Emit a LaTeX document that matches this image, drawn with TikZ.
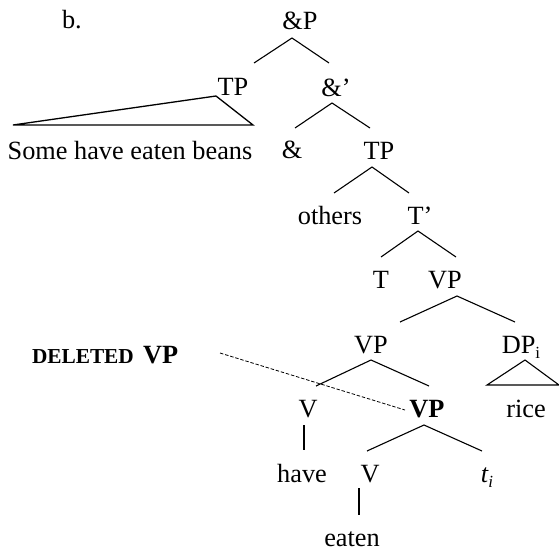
\documentclass[tikz,border=0pt]{standalone}
\usepackage{fontspec}
\setmainfont{Liberation Serif}
\usetikzlibrary{calc}
\newcommand{\lbl}{\fontsize{26.3}{30}\selectfont}
\newcommand{\subtxt}[1]{\raisebox{-5pt}{\fontsize{17}{17}\selectfont #1}}
\begin{document}
\begin{tikzpicture}[x=1pt,y=1pt,
  cat/.style={inner sep=0pt,outer sep=0pt,anchor=base,font=\lbl},
  branch/.style={line width=1.1pt},
  tri/.style={line width=1.3pt,line join=miter},
  elided/.style={line width=0.8pt,dash pattern=on 3.5pt off 1.8pt}]
\useasboundingbox (0,0) rectangle (559,-552);

% labels
\node[cat,anchor=base west] (lab) at (62,-28) {b.};
\node[cat] (ampP) at (300,-29) {\&P};
\node[cat] (tpL) at (233,-95) {TP};
\node[cat] (sent) at (130,-159) {Some have eaten beans};
\node[cat] (ampbar) at (336,-96) {\&’};
\node[cat] (amp) at (292,-158) {\&};
\node[cat] (tpR) at (379,-159) {TP};
\node[cat] (others) at (330,-224) {others};
\node[cat] (tbar) at (420,-224) {T’};
\node[cat] (t) at (381,-288) {T};
\node[cat] (vpA) at (445,-288) {VP};
\node[cat] (vpB) at (371,-353) {VP};
\node[cat] (dp) at (521,-353) {DP\subtxt{i}};
\node[cat] (vA) at (308,-417) {V};
\node[cat] (vpC) at (427,-417) {\bfseries VP};
\node[cat] (rice) at (526,-417) {rice};
\node[cat] (have) at (302,-482) {have};
\node[cat] (vB) at (370,-482) {V};
\node[cat] (trace) at (487,-482) {\itshape t\subtxt{i}};
\node[cat] (eaten) at (352,-546) {eaten};
\node[inner sep=0pt,outer sep=0pt,anchor=base west] (del) at (32,-363)
  {\fontsize{21.3}{24}\selectfont\bfseries DELETED\hspace{4pt} \fontsize{26.3}{30}\selectfont VP};

% branches
\draw[branch] ([shift={(21,32)}]tpL.base) -- ([shift={(-8,-9)}]ampP.base) -- ([shift={(-7,33)}]ampbar.base);
\draw[branch] ([shift={(3,30)}]amp.base) -- ([shift={(-4,-7)}]ampbar.base) -- ([shift={(-9,31)}]tpR.base);
\draw[branch] ([shift={(4,31)}]others.base) -- ([shift={(-7,-8)}]tpR.base) -- ([shift={(-11,31)}]tbar.base);
\draw[branch] ([shift={(0,31)}]t.base) -- ([shift={(-2,-7)}]tbar.base) -- ([shift={(11,31)}]vpA.base);
\draw[branch] ([shift={(29,31)}]vpB.base) -- ([shift={(12,-8)}]vpA.base) -- ([shift={(-6,31)}]dp.base);
\draw[branch] ([shift={(8,31)}]vA.base) -- ([shift={(0,-7)}]vpB.base) -- ([shift={(2,31)}]vpC.base);
\draw[branch] ([shift={(-4,-8)}]vA.base) -- ([shift={(2,32)}]have.base);
\draw[branch] ([shift={(-3,31)}]vB.base) -- ([shift={(-3,-8)}]vpC.base) -- ([shift={(-5,31)}]trace.base);
\draw[branch] ([shift={(-11,-6)}]vB.base) -- ([shift={(7,31)}]eaten.base);

% collapsed constituents
\draw[tri] ([shift={(-17,-1)}]tpL.base) -- ([shift={(-220,-30)}]tpL.base) -- ([shift={(20,-30)}]tpL.base) -- cycle;
\draw[branch] ([shift={(4,-7)}]dp.base) -- ([shift={(-34,-32)}]dp.base) -- ([shift={(38,-32)}]dp.base) -- cycle;

% pointer to the deleted VP
\draw[elided] ([shift={(188,10)}]del.base west) -- ([shift={(-22,7)}]vpC.base);
\end{tikzpicture}
\end{document}
